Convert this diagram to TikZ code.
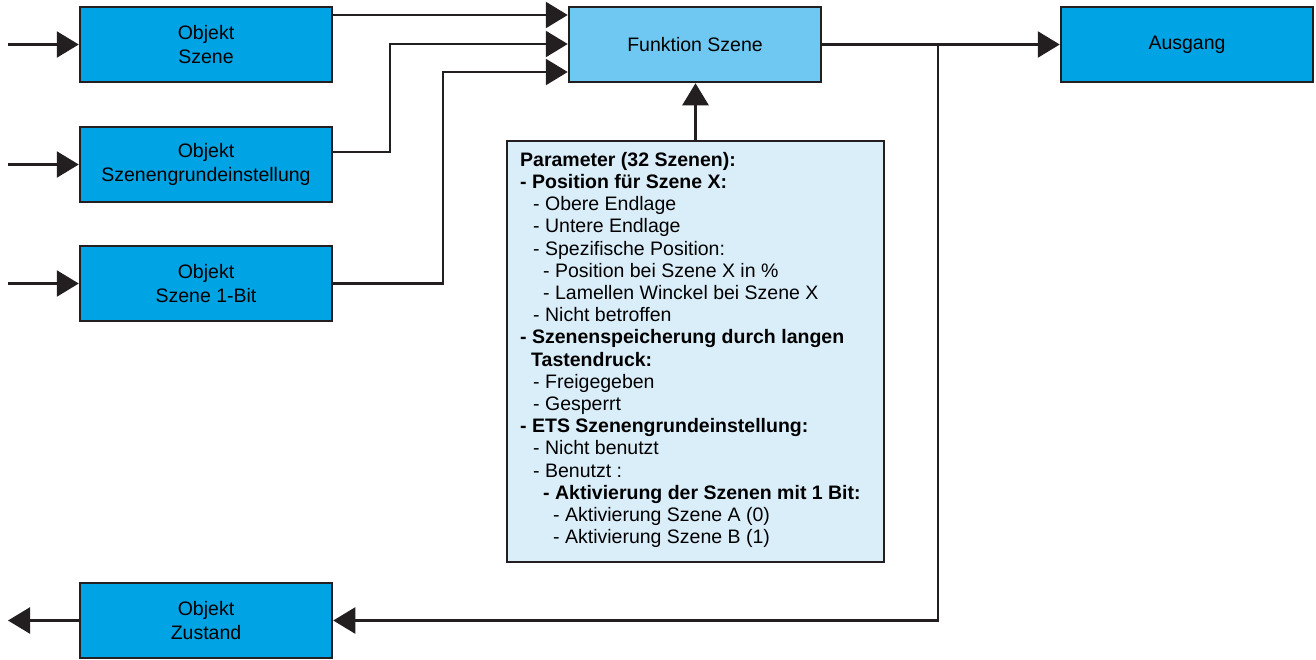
\documentclass[tikz,border=0pt]{standalone}
\usepackage{fontspec}
\setmainfont{Liberation Sans}
\usetikzlibrary{arrows.meta,positioning}
\definecolor{objblue}{HTML}{00A3E4}
\definecolor{funcblue}{HTML}{6EC8F2}
\definecolor{parblue}{HTML}{DAEEFA}
\definecolor{edge}{HTML}{231F20}
\tikzset{
  obj/.style={draw=edge, line width=2.5pt, fill=objblue, minimum width=252pt, minimum height=75pt, align=center, font=\fontsize{19.5}{24}\selectfont, inner sep=0pt},
  func/.style={obj, fill=funcblue},
  wire/.style={draw=edge, line width=2.5pt},
  arr/.style={wire, -{Triangle[length=22pt,width=26pt]}},
}
\begin{document}
\begin{tikzpicture}[x=1pt,y=-1pt]
\useasboundingbox (0,0) rectangle (1316,659);
% boxes
\node[obj] (os) at (206,44.5) {Objekt\\Szene};
\node[obj] (og) at (206,164.5) {Objekt\\Szenengrundeinstellung};
\node[obj] (ob) at (206,283.5) {Objekt\\Szene 1-Bit};
\node[obj] (oz) at (206,620.5) {Objekt\\Zustand};
\node[func] (fs) at (695,44.5) {Funktion Szene};
\node[obj] (au) at (1187,44.5) {Ausgang};
\node[draw=edge, line width=2.5pt, fill=parblue, minimum width=377pt, minimum height=421pt, inner sep=0pt] (par) at (695.5,351.5) {};
\node[anchor=north west, inner sep=0pt, align=left, font=\fontsize{19.5}{22.2}\selectfont] (ptext) at (520,152) {%
\textbf{Parameter (32 Szenen):}\\
\textbf{- Position für Szene X:}\\
\hspace*{13pt}- Obere Endlage\\
\hspace*{13pt}- Untere Endlage\\
\hspace*{13pt}- Spezifische Position:\\
\hspace*{23pt}- Position bei Szene X in \%\\
\hspace*{23pt}- Lamellen Winckel bei Szene X\\
\hspace*{13pt}- Nicht betroffen\\
\textbf{- Szenenspeicherung durch langen}\\
\hspace*{11pt}\textbf{Tastendruck:}\\
\hspace*{13pt}- Freigegeben\\
\hspace*{13pt}- Gesperrt\\
\textbf{- ETS Szenengrundeinstellung:}\\
\hspace*{13pt}- Nicht benutzt\\
\hspace*{13pt}- Benutzt :\\
\hspace*{23pt}\textbf{- Aktivierung der Szenen mit 1 Bit:}\\
\hspace*{33pt}- Aktivierung Szene A (0)\\
\hspace*{33pt}- Aktivierung Szene B (1)};
% free ends
\coordinate (in1) at (8,44.5);
\coordinate (in2) at (8,164.5);
\coordinate (in3) at (8,283.5);
\coordinate (outz) at (8,620.5);
\coordinate (br) at (938,44.5);
% inputs
\draw[arr] (in1) -- (os.west);
\draw[arr] (in2) -- (og.west);
\draw[arr] (in3) -- (ob.west);
\draw[arr] (oz.west) -- (outz);
% into function
\draw[arr] (os.east |- 0,15) -- (fs.west |- 0,15);
\draw[arr] (og.east |- 0,152) -- (390,152) -- (390,44) -- (fs.west |- 0,44);
\draw[arr] (ob.east) -- (443,283.5) -- (443,72) -- (fs.west |- 0,72);
\draw[arr] (par.north) -- (fs.south -| par.north);
% output
\draw[arr] (fs.east) -- (au.west);
\draw[arr] (br) -- (938,620.5) -- (oz.east);
\end{tikzpicture}
\end{document}
